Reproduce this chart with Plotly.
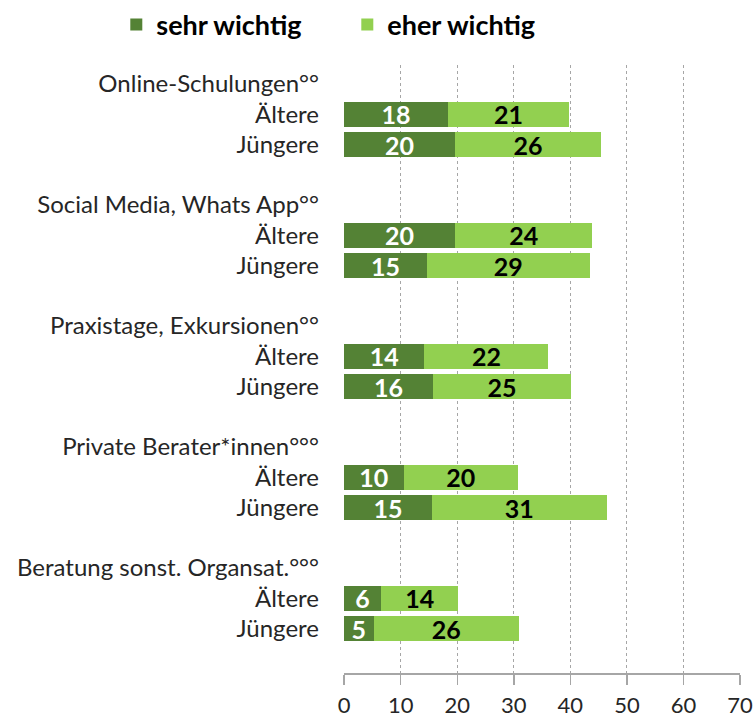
import plotly.graph_objects as go

categories = ["Online-Schulungen°°", "Social Media, Whats App°°", "Praxistage, Exkursionen°°",
              "Private Berater*innen°°°", "Beratung sonst. Organsat.°°°"]
groups = ["Ältere", "Jüngere"]

sehr_aeltere = [18.3, 19.6, 14.2, 10.5, 6.5]
eher_aeltere = [21.5, 24.3, 21.9, 20.2, 13.7]
sehr_juengere = [19.6, 14.6, 15.7, 15.5, 5.2]
eher_juengere = [25.8, 28.8, 24.4, 30.9, 25.7]

sehr_aeltere_lbl = [18, 20, 14, 10, 6]
eher_aeltere_lbl = [21, 24, 22, 20, 14]
sehr_juengere_lbl = [20, 15, 16, 15, 5]
eher_juengere_lbl = [26, 29, 25, 31, 26]

x_ticks = [0, 10, 20, 30, 40, 50, 60, 70]

DARK = "#548235"
LIGHT = "#92D050"
FONT = "Lato"

# row layout: header, Ältere, Jüngere, gap
ys, sehr, eher, sehr_t, eher_t = [], [], [], [], []
tickvals, ticktext = [], []
for i, cat in enumerate(categories):
    base = 4 * i
    tickvals += [base, base + 1, base + 2]
    ticktext += [cat, groups[0], groups[1]]
    ys += [base + 1, base + 2]
    sehr += [sehr_aeltere[i], sehr_juengere[i]]
    eher += [eher_aeltere[i], eher_juengere[i]]
    sehr_t += [f"<b>{sehr_aeltere_lbl[i]}</b>", f"<b>{sehr_juengere_lbl[i]}</b>"]
    eher_t += [f"<b>{eher_aeltere_lbl[i]}</b>", f"<b>{eher_juengere_lbl[i]}</b>"]

fig = go.Figure()
fig.add_trace(go.Bar(
    x=sehr, y=ys, orientation="h", name="<b>sehr wichtig</b>",
    marker=dict(color=DARK, line=dict(width=0)), width=0.82,
    text=sehr_t, textposition="inside", insidetextanchor="middle", textangle=0,
    textfont=dict(family=FONT, size=25, color="white"), constraintext="none",
    hoverinfo="skip",
))
fig.add_trace(go.Bar(
    x=eher, y=ys, orientation="h", name="<b>eher wichtig</b>",
    marker=dict(color=LIGHT, line=dict(width=0)), width=0.82,
    text=eher_t, textposition="inside", insidetextanchor="middle", textangle=0,
    textfont=dict(family=FONT, size=25, color="black"), constraintext="none",
    hoverinfo="skip",
))

fig.update_layout(
    width=755, height=717,
    margin=dict(l=344, r=15, t=65, b=44, autoexpand=False),
    barmode="stack",
    plot_bgcolor="white", paper_bgcolor="white",
    font=dict(family=FONT, size=24, color="#262626"),
    legend=dict(orientation="h", x=-0.575, xanchor="left", y=1.066, yanchor="middle",
                font=dict(family=FONT, size=27, color="black"),
                entrywidth=186, entrywidthmode="pixels", traceorder="normal"),
    xaxis=dict(range=[-0.03, 70], tickvals=x_ticks, showgrid=True, griddash="dot",
               gridcolor="#a6a6a6", gridwidth=1, zeroline=False, showline=True,
               linecolor="#a6a6a6", linewidth=1.5, automargin=False,
               ticks="outside", ticklen=10, tickcolor="#a6a6a6", tickwidth=1.5,
               ticklabelstandoff=2, tickfont=dict(size=22, color="#262626")),
    yaxis=dict(range=[19.47, -0.63], tickvals=tickvals, ticktext=ticktext, showgrid=False,
               zeroline=False, showline=False, ticks="", ticklabelstandoff=24, automargin=False,
               tickfont=dict(size=24, color="#262626")),
)

fig.write_html("out.html", config={"displayModeBar": False, "staticPlot": True},
               post_script="document.body.style.margin='0';document.body.style.overflow='hidden';")
